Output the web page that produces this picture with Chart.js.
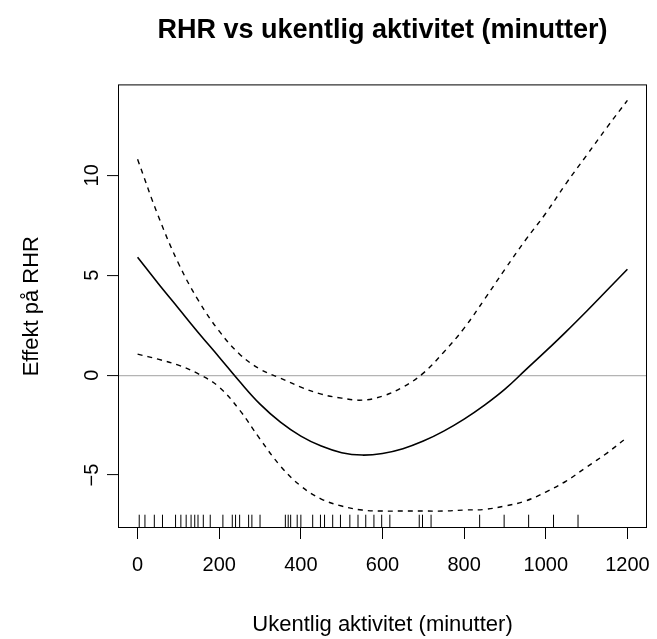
<!DOCTYPE html>
<html>
<head>
<meta charset="utf-8">
<script src="https://cdn.jsdelivr.net/npm/chart.js@4/dist/chart.umd.min.js"></script>
<style>
html, body { margin: 0; padding: 0; background: #fff; }
</style>
</head>
<body>
<canvas id="rhr" width="657" height="639"></canvas>
<script>
const minutes = [0, 50, 100, 150, 200, 250, 300, 350, 400, 450, 500, 550, 600,
                 650, 700, 750, 800, 850, 900, 950, 1000, 1050, 1100, 1150, 1200];
// fitted effect on RHR
const fitted = [5.9, 4.6, 3.35, 2.1, 0.9, -0.32, -1.45, -2.35, -3.05, -3.55, -3.88, -4.0, -3.92,
                -3.68, -3.3, -2.8, -2.2, -1.5, -0.7, 0.25, 1.2, 2.18, 3.2, 4.25, 5.3];
// confidence band
const upper = [10.8, 8.0, 5.6, 3.7, 2.2, 1.05, 0.3, -0.15, -0.6, -0.95, -1.15, -1.25, -1.05,
               -0.6, 0.1, 1.15, 2.35, 3.8, 5.3, 6.75, 8.1, 9.6, 11.0, 12.4, 13.75];
const lower = [1.05, 0.8, 0.5, 0.05, -0.6, -1.75, -3.2, -4.55, -5.55, -6.2, -6.55, -6.75, -6.8,
               -6.8, -6.8, -6.8, -6.75, -6.72, -6.55, -6.3, -5.85, -5.3, -4.6, -3.9, -3.1];
// observations shown as rug
const rugMinutes = [4, 18, 41, 61, 93, 106, 119, 131, 140, 148, 161, 178, 209, 232, 240, 250,
                    272, 280, 300, 362, 369, 375, 391, 400, 429, 448, 458, 478, 497, 520, 540,
                    559, 579, 598, 618, 690, 698, 719, 838, 898, 958, 1019, 1079];
const xTicks = [0, 200, 400, 600, 800, 1000, 1200];
const yTicks = [-5, 0, 5, 10];

const xMin = -48, xMax = 1248;
const yMin = -7.65, yMax = 14.55;
const rugLevel = yMin + 0.33;

const font = "'Liberation Sans', Arial, Helvetica, sans-serif";

function pairs(ys) {
    return minutes.map(function(m, i) { return { x: m, y: ys[i] }; });
}

function noPad(scale) {
    scale.paddingLeft = 0;
    scale.paddingRight = 0;
    scale.paddingTop = 0;
    scale.paddingBottom = 0;
}

const boxPlugin = {
    id: 'box',
    afterDraw: function(chart) {
        const a = chart.chartArea;
        const c = chart.ctx;
        c.save();
        c.strokeStyle = '#000';
        c.lineWidth = 1;
        c.strokeRect(a.left + 0.5, a.top + 0.5, a.right - a.left - 1, a.bottom - a.top - 1);
        c.restore();
    }
};

const ctx = document.getElementById('rhr').getContext('2d');
const rhrChart = new Chart(ctx, {
    type: 'line',
    data: {
        datasets: [
            {
                label: 'Effekt',
                data: pairs(fitted),
                borderColor: '#000',
                borderWidth: 1.6,
                pointRadius: 0,
                tension: 0.4,
                fill: false
            },
            {
                label: 'Øvre',
                data: pairs(upper),
                borderColor: '#000',
                borderWidth: 1.4,
                borderDash: [5, 5],
                pointRadius: 0,
                tension: 0.4,
                fill: false
            },
            {
                label: 'Nedre',
                data: pairs(lower),
                borderColor: '#000',
                borderWidth: 1.4,
                borderDash: [5, 5],
                pointRadius: 0,
                tension: 0.4,
                fill: false
            },
            {
                type: 'scatter',
                label: 'Rug',
                data: rugMinutes.map(function(m) { return { x: m, y: rugLevel }; }),
                showLine: false,
                pointStyle: 'line',
                rotation: 90,
                pointRadius: 6.7,
                pointHoverRadius: 6.7,
                borderColor: '#000',
                borderWidth: 1
            }
        ]
    },
    options: {
        responsive: false,
        animation: false,
        events: [],
        layout: { padding: { left: 0, right: 10, top: 0, bottom: 0 } },
        plugins: {
            legend: { display: false },
            tooltip: { enabled: false },
            title: {
                display: true,
                fullSize: false,
                text: 'RHR vs ukentlig aktivitet (minutter)',
                color: '#000',
                font: { family: font, size: 27, weight: 'bold' },
                padding: { top: 14, bottom: 38 }
            }
        },
        scales: {
            x: {
                type: 'linear',
                min: xMin,
                max: xMax,
                afterBuildTicks: function(scale) {
                    scale.ticks = xTicks.map(function(v) { return { value: v }; });
                },
                afterFit: function(scale) { scale.height = 111; noPad(scale); },
                border: { display: false },
                grid: {
                    drawOnChartArea: false,
                    drawTicks: true,
                    tickLength: 11,
                    tickColor: '#000',
                    tickWidth: 1
                },
                ticks: {
                    color: '#000',
                    font: { family: font, size: 20 },
                    padding: 14,
                    maxRotation: 0,
                    autoSkip: false,
                    callback: function(v) { return String(v); }
                },
                title: {
                    display: true,
                    text: 'Ukentlig aktivitet (minutter)',
                    color: '#000',
                    font: { family: font, size: 22 },
                    padding: { top: 0, bottom: 1 }
                }
            },
            y: {
                type: 'linear',
                min: yMin,
                max: yMax,
                afterBuildTicks: function(scale) {
                    scale.ticks = yTicks.map(function(v) { return { value: v }; });
                },
                afterFit: function(scale) { scale.width = 118; noPad(scale); },
                border: { display: false },
                grid: {
                    drawOnChartArea: true,
                    drawTicks: true,
                    tickLength: 11,
                    tickColor: '#000',
                    tickWidth: 1,
                    lineWidth: 1.2,
                    color: function(c) {
                        return c.tick && c.tick.value === 0 ? '#b4b4b4' : 'rgba(0,0,0,0)';
                    }
                },
                ticks: {
                    color: '#000',
                    font: { family: font, size: 20 },
                    padding: 3,
                    minRotation: 90,
                    maxRotation: 90,
                    crossAlign: 'center',
                    callback: function(v) { return String(v).replace('-', '\u2212'); }
                },
                title: {
                    display: true,
                    text: 'Effekt på RHR',
                    color: '#000',
                    font: { family: font, size: 22 },
                    padding: { top: 19, bottom: 0 }
                }
            }
        }
    },
    plugins: [boxPlugin]
});
</script>
</body>
</html>
